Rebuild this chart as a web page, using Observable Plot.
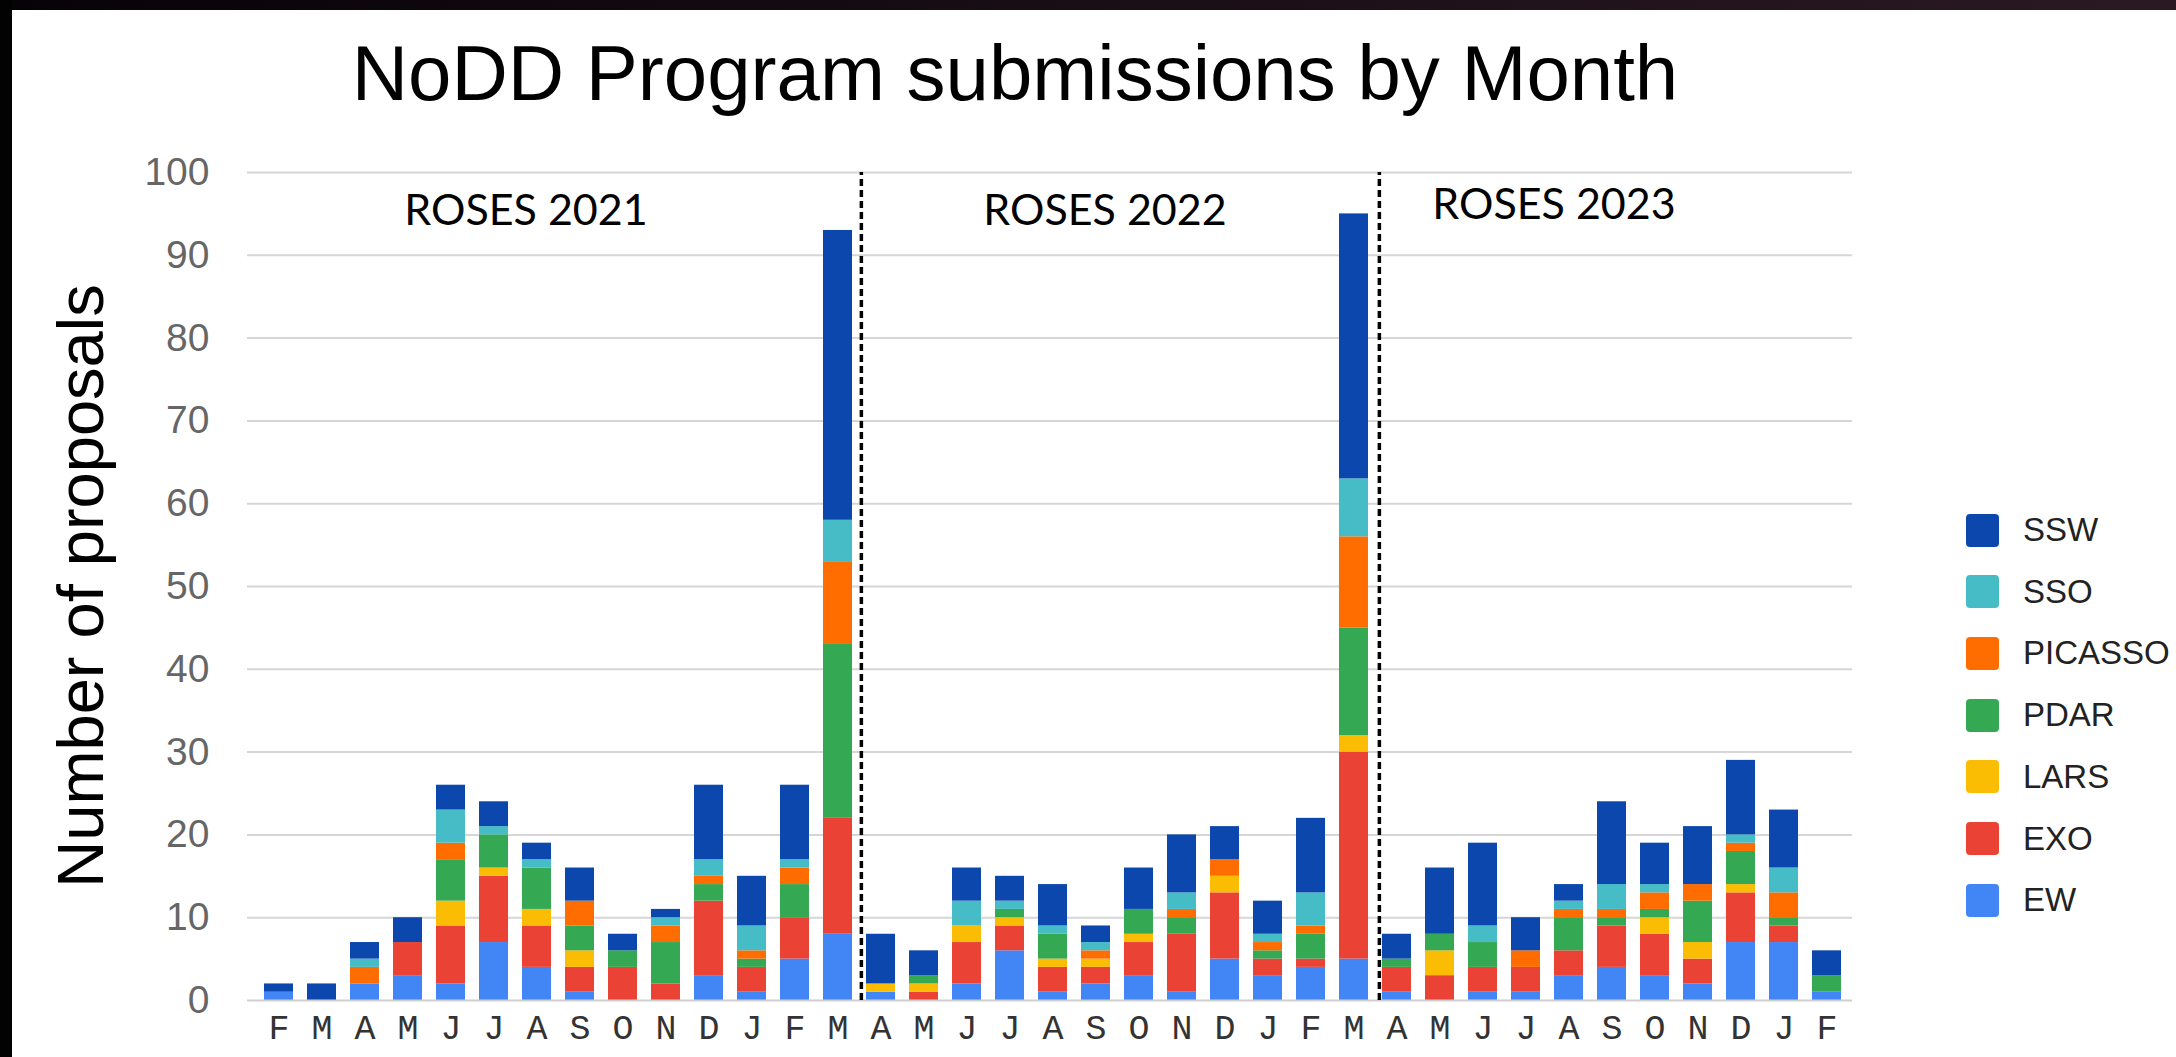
<!DOCTYPE html>
<html>
<head>
<meta charset="utf-8">
<script src="https://cdn.jsdelivr.net/npm/d3@7"></script>
<script src="https://cdn.jsdelivr.net/npm/@observablehq/plot@0.6"></script>
<style>
html, body { margin: 0; padding: 0; background: #fff; }
body { width: 2176px; height: 1057px; position: relative; overflow: hidden; font-family: "Liberation Sans", Arial, sans-serif; }
#topbar { position: absolute; left: 0; top: 0; width: 2176px; height: 10px; background: linear-gradient(to right, #060306, #2b1921); z-index: 5; }
#leftbar { position: absolute; left: 0; top: 0; width: 12px; height: 1057px; background: #030203; z-index: 6; }
#title { position: absolute; left: 15px; top: 34px; width: 2000px; text-align: center; font-size: 78px; line-height: 1; color: #000; }
#chart { position: absolute; left: 0; top: 120px; }
#ylabel { position: absolute; left: 80px; top: 586px; transform: translate(-50%, -50%) rotate(-90deg); font-size: 65px; line-height: 1; white-space: nowrap; color: #000; }
#legend { position: absolute; left: 1966px; top: 0; width: 210px; height: 1057px; }
.item { position: absolute; left: 0; height: 33px; display: flex; align-items: center; }
.swatch { width: 33px; height: 33px; border-radius: 4px; margin-right: 24px; flex: none; }
.lab { font-size: 33px; color: #222; white-space: nowrap; }
</style>
</head>
<body>
<div id="topbar"></div>
<div id="leftbar"></div>
<div id="title">NoDD Program submissions by Month</div>
<div id="ylabel">Number of proposals</div>
<div id="chart"></div>
<div id="legend"></div>
<script>
// ---- Data ----
const months = [
  "2021-02","2021-03","2021-04","2021-05","2021-06","2021-07","2021-08","2021-09","2021-10","2021-11","2021-12","2022-01","2022-02","2022-03",
  "2022-04","2022-05","2022-06","2022-07","2022-08","2022-09","2022-10","2022-11","2022-12","2023-01","2023-02","2023-03",
  "2023-04","2023-05","2023-06","2023-07","2023-08","2023-09","2023-10","2023-11","2023-12","2024-01","2024-02"
];
const monthLetters = [
  "F","M","A","M","J","J","A","S","O","N","D","J","F","M",
  "A","M","J","J","A","S","O","N","D","J","F","M",
  "A","M","J","J","A","S","O","N","D","J","F"
];
const programs = ["EW","EXO","LARS","PDAR","PICASSO","SSO","SSW"];
const colors = ["#4285f4","#ea4335","#fbbc04","#34a853","#ff6d01","#46bdc6","#0b47ad"];

const EW      = [1,0,2,3,2,7,4,1,0,0,3,1,5,8,  1,0,2,6,1,2,3,1,5,3,4,5,   1,0,1,1,3,4,3,2,7,7,1];
const EXO     = [0,0,0,4,7,8,5,3,4,2,9,3,5,14, 0,1,5,3,3,2,4,7,8,2,1,25,  3,3,3,3,3,5,5,3,6,2,0];
const LARS    = [0,0,0,0,3,1,2,2,0,0,0,0,0,0,  1,1,2,1,1,1,1,0,2,0,0,2,   0,3,0,0,0,0,2,2,1,0,0];
const PDAR    = [0,0,0,0,5,4,5,3,2,5,2,1,4,21, 0,1,0,1,3,0,3,2,0,1,3,13,  1,2,3,0,4,1,1,5,4,1,2];
const PICASSO = [0,0,2,0,2,0,0,3,0,2,1,1,2,10, 0,0,0,0,0,1,0,1,2,1,1,11,  0,0,0,2,1,1,2,2,1,3,0];
const SSO     = [0,0,1,0,4,1,1,0,0,1,2,3,1,5,  0,0,3,1,1,1,0,2,0,1,4,7,   0,0,2,0,1,3,1,0,1,3,0];
const SSW     = [1,2,2,3,3,3,2,4,2,1,9,6,9,35, 6,3,4,3,5,2,5,7,4,4,9,32,  3,8,10,4,2,10,5,7,9,7,3];

const cycles = ["ROSES 2021","ROSES 2022","ROSES 2023"];
const cycleStartMonths = ["2022-04","2023-04"]; // first month of ROSES 2022 and ROSES 2023
const yTicks = [0,10,20,30,40,50,60,70,80,90,100];

// ---- Build table ----
const seriesValues = {EW, EXO, LARS, PDAR, PICASSO, SSO, SSW};
const table = [];
months.forEach((m, i) => {
  programs.forEach(p => table.push({month: m, program: p, value: seriesValues[p][i]}));
});
const letterOf = new Map(months.map((m, i) => [m, monthLetters[i]]));

// ---- Layout ----
const W = 2176, H = 937;
const xRange = [252, 1853];
const step = (xRange[1] - xRange[0]) / months.length;

const labelStyle = {fontFamily: "Lato, sans-serif", fontSize: 43, fill: "#000", textAnchor: "middle", lineAnchor: "middle"};
const sepStyle = {y1: 0, y2: 100, stroke: "#000", strokeWidth: 3.5, strokeDasharray: "7,4"};

const chart = Plot.plot({
  width: W,
  height: H,
  marginLeft: 247,
  marginRight: W - 1852,
  marginTop: 52,
  marginBottom: 57,
  style: {background: "transparent", overflow: "visible"},
  x: {domain: months, range: xRange, paddingInner: 0.33, paddingOuter: 0.165},
  y: {domain: [0, 100]},
  color: {domain: programs, range: colors},
  marks: [
    Plot.ruleY(yTicks.filter(d => d > 0), {y: d => d, stroke: "#d6d6d6", strokeWidth: 2}),
    Plot.barY(table, {x: "month", y: "value", fill: "program"}),
    Plot.ruleY([0], {stroke: "#cfcfcf", strokeWidth: 2}),
    Plot.ruleX([cycleStartMonths[0]], {x: d => d, dx: -step / 2 + 2, ...sepStyle}),
    Plot.ruleX([cycleStartMonths[1]], {x: d => d, dx: -step / 2 + 4, ...sepStyle}),
    Plot.text([cycles[0]], {x: () => months[6], y: () => 95.3, dx: -11, text: d => d, ...labelStyle}),
    Plot.text([cycles[1]], {x: () => months[19], y: () => 95.3, dx: 9, text: d => d, ...labelStyle}),
    Plot.text([cycles[2]], {x: () => months[29], y: () => 96, dx: 28, text: d => d, ...labelStyle}),
    Plot.axisY(yTicks, {tickSize: 0, tickPadding: 38, fontSize: 39, fontFamily: "Liberation Sans, Arial, sans-serif", fill: "#666", label: null}),
    Plot.axisX({tickSize: 0, tickPadding: 14, tickFormat: d => letterOf.get(d), fontSize: 35, fontFamily: "Liberation Mono, Courier New, monospace", fill: "#333", label: null})
  ]
});
document.getElementById("chart").appendChild(chart);

// ---- Legend (top series first) ----
const legend = d3.select("#legend");
const legendOrder = programs.slice().reverse();
legendOrder.forEach((p, i) => {
  const item = legend.append("div").attr("class", "item").style("top", (530 + i * 61.7 - 16.5) + "px");
  item.append("div").attr("class", "swatch").style("background", colors[programs.indexOf(p)]);
  item.append("div").attr("class", "lab").text(p);
});
</script>
</body>
</html>
